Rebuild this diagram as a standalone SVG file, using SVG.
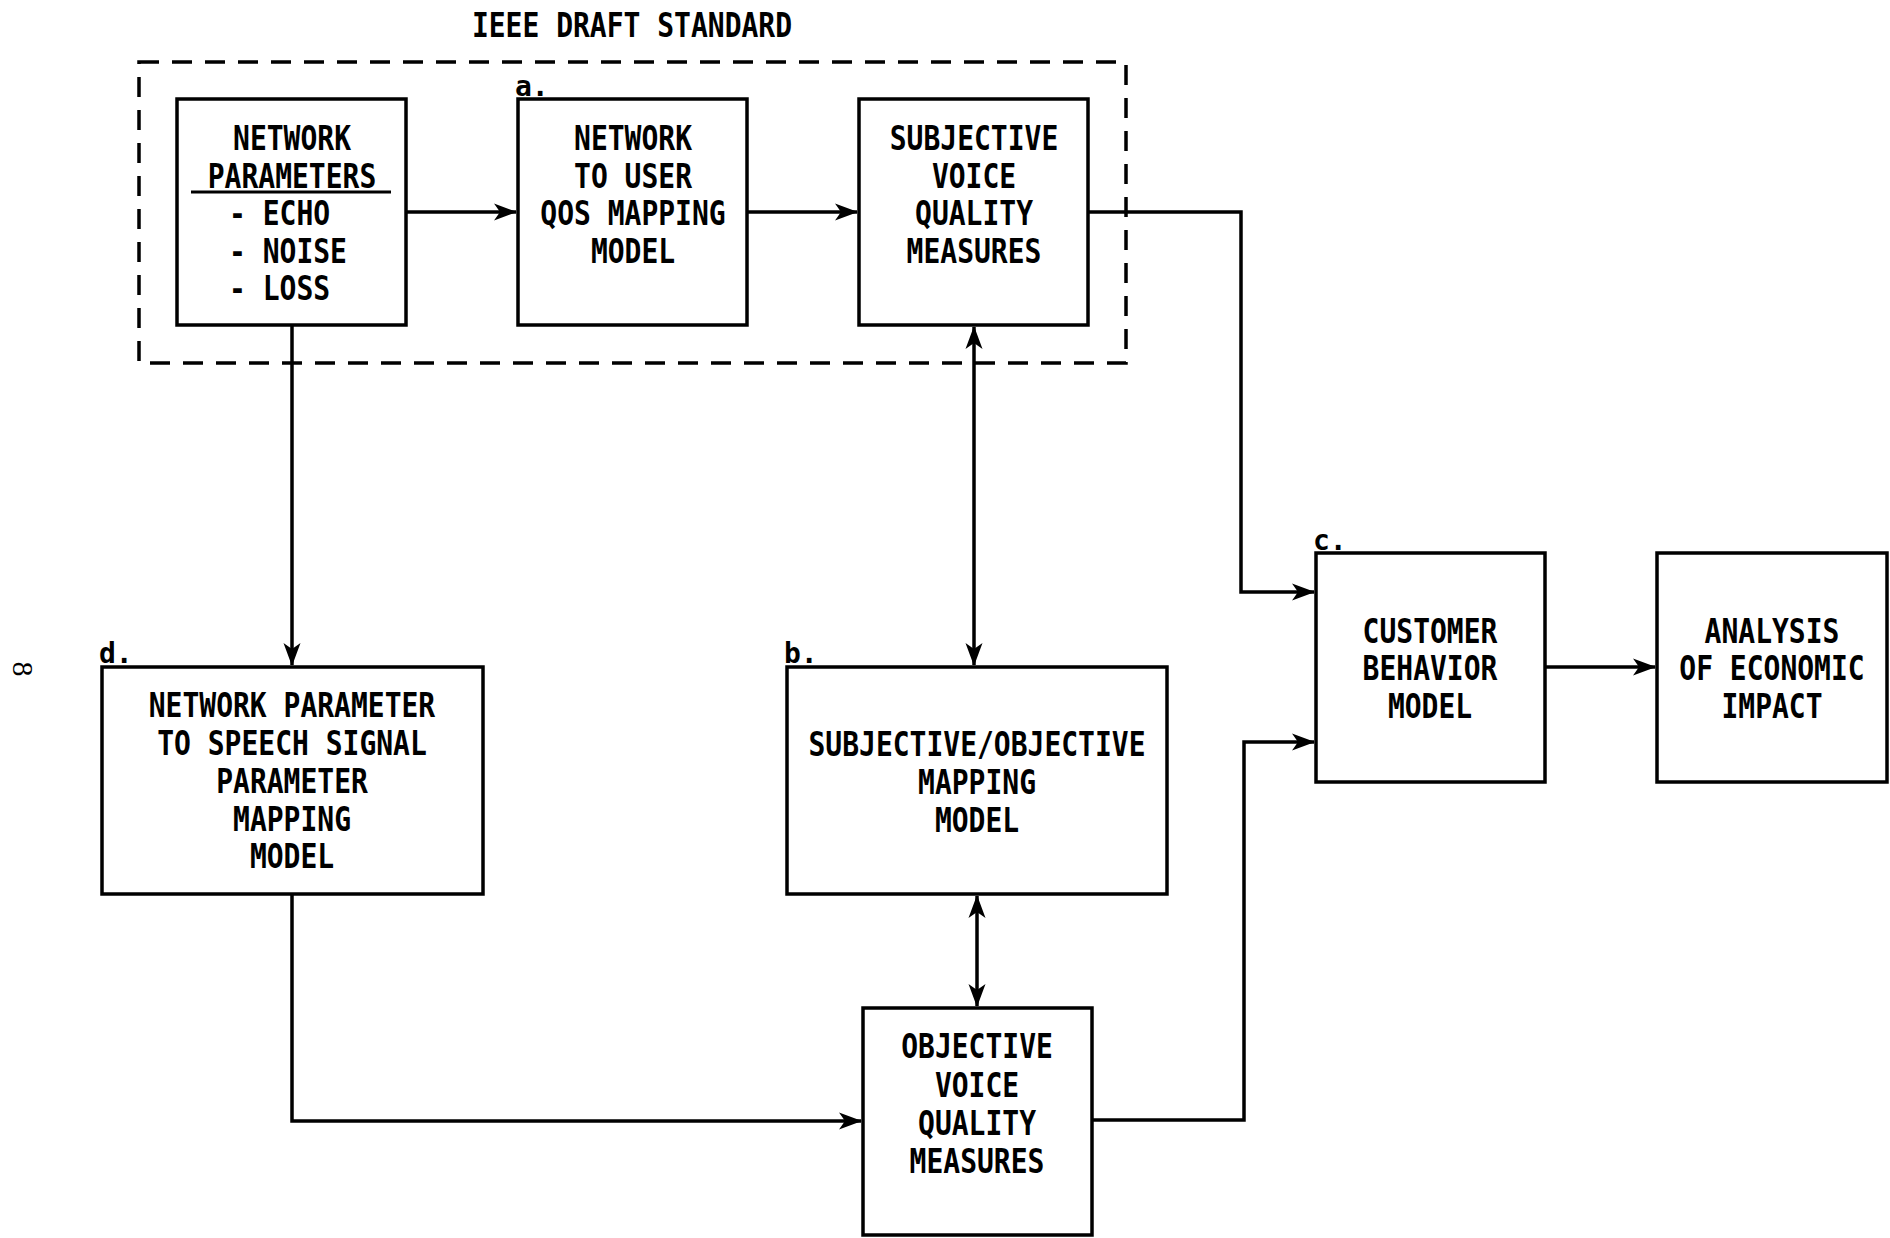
<svg xmlns="http://www.w3.org/2000/svg" width="1890" height="1238" viewBox="0 0 1890 1238">
<style>
.box{fill:none;stroke:#000;stroke-width:3.5}
.t{font-family:"DejaVu Sans Mono","Liberation Mono",monospace;font-size:28px;font-weight:bold;fill:#000;text-anchor:middle}
.tl{text-anchor:start}
.lab{font-family:"DejaVu Sans Mono","Liberation Mono",monospace;font-size:28px;font-weight:bold;fill:#000}
.c{fill:none;stroke:#000;stroke-width:3.5}
.dash{fill:none;stroke:#000;stroke-width:3.5;stroke-dasharray:20 13}
</style>
<defs>
<marker id="ah" viewBox="-24 -10 26 20" refX="0" refY="0" markerWidth="26" markerHeight="20" markerUnits="userSpaceOnUse" orient="auto-start-reverse">
<path d="M1,0 L-22,-8.5 L-16,0 L-22,8.5 Z" fill="#000"/>
</marker>
</defs>
<rect width="1890" height="1238" fill="#fff"/>
<text class="t" transform="translate(632 37) scale(1 1.22)">IEEE DRAFT STANDARD</text>
<text x="23" y="669" font-family="Liberation Serif,serif" font-size="30" text-anchor="middle" dominant-baseline="central" transform="rotate(90 23 669)">8</text>
<rect class="dash" x="139" y="62" width="987" height="301"/>
<g id="connectors">
<line class="c" x1="406" y1="212" x2="516" y2="212" marker-end="url(#ah)"/>
<line class="c" x1="747" y1="212" x2="857" y2="212" marker-end="url(#ah)"/>
<polyline class="c" points="1088,212 1241,212 1241,592 1314,592" marker-end="url(#ah)"/>
<line class="c" x1="292" y1="325" x2="292" y2="665" marker-end="url(#ah)"/>
<polyline class="c" points="292,894 292,1121 861,1121" marker-end="url(#ah)"/>
<line class="c" x1="974" y1="327" x2="974" y2="665" marker-start="url(#ah)" marker-end="url(#ah)"/>
<line class="c" x1="977" y1="896" x2="977" y2="1006" marker-start="url(#ah)" marker-end="url(#ah)"/>
<polyline class="c" points="1092,1120 1244,1120 1244,742 1314,742" marker-end="url(#ah)"/>
<line class="c" x1="1545" y1="667" x2="1655" y2="667" marker-end="url(#ah)"/>
</g>
<g id="network-parameters">
<rect class="box" x="177" y="99" width="229" height="226"/>
<text class="t" transform="translate(292 150) scale(1 1.22)">NETWORK</text>
<text class="t" transform="translate(292 188) scale(1 1.22)">PARAMETERS</text>
<line x1="191" y1="192" x2="391" y2="192" stroke="#000" stroke-width="3"/>
<text class="t tl" transform="translate(229 225) scale(1 1.22)">- ECHO</text>
<text class="t tl" transform="translate(229 263) scale(1 1.22)">- NOISE</text>
<text class="t tl" transform="translate(229 300) scale(1 1.22)">- LOSS</text>
</g>
<g id="network-to-user">
<rect class="box" x="518" y="99" width="229" height="226"/>
<text class="lab" x="515" y="96">a.</text>
<text class="t" transform="translate(633 150) scale(1 1.22)">NETWORK</text>
<text class="t" transform="translate(633 188) scale(1 1.22)">TO USER</text>
<text class="t" transform="translate(633 225) scale(1 1.22)">QOS MAPPING</text>
<text class="t" transform="translate(633 263) scale(1 1.22)">MODEL</text>
</g>
<g id="subjective-voice">
<rect class="box" x="859" y="99" width="229" height="226"/>
<text class="t" transform="translate(974 150) scale(1 1.22)">SUBJECTIVE</text>
<text class="t" transform="translate(974 188) scale(1 1.22)">VOICE</text>
<text class="t" transform="translate(974 225) scale(1 1.22)">QUALITY</text>
<text class="t" transform="translate(974 263) scale(1 1.22)">MEASURES</text>
</g>
<g id="np-speech-mapping">
<rect class="box" x="102" y="667" width="381" height="227"/>
<text class="lab" x="99" y="663">d.</text>
<text class="t" transform="translate(292 717) scale(1 1.22)">NETWORK PARAMETER</text>
<text class="t" transform="translate(292 755) scale(1 1.22)">TO SPEECH SIGNAL</text>
<text class="t" transform="translate(292 793) scale(1 1.22)">PARAMETER</text>
<text class="t" transform="translate(292 831) scale(1 1.22)">MAPPING</text>
<text class="t" transform="translate(292 868) scale(1 1.22)">MODEL</text>
</g>
<g id="subj-obj-mapping">
<rect class="box" x="787" y="667" width="380" height="227"/>
<text class="lab" x="784" y="663">b.</text>
<text class="t" transform="translate(977 756) scale(1 1.22)">SUBJECTIVE/OBJECTIVE</text>
<text class="t" transform="translate(977 794) scale(1 1.22)">MAPPING</text>
<text class="t" transform="translate(977 832) scale(1 1.22)">MODEL</text>
</g>
<g id="objective-voice">
<rect class="box" x="863" y="1008" width="229" height="227"/>
<text class="t" transform="translate(977 1058) scale(1 1.22)">OBJECTIVE</text>
<text class="t" transform="translate(977 1097) scale(1 1.22)">VOICE</text>
<text class="t" transform="translate(977 1135) scale(1 1.22)">QUALITY</text>
<text class="t" transform="translate(977 1173) scale(1 1.22)">MEASURES</text>
</g>
<g id="customer-behavior">
<rect class="box" x="1316" y="553" width="229" height="229"/>
<text class="lab" x="1313" y="550">c.</text>
<text class="t" transform="translate(1430 643) scale(1 1.22)">CUSTOMER</text>
<text class="t" transform="translate(1430 680) scale(1 1.22)">BEHAVIOR</text>
<text class="t" transform="translate(1430 718) scale(1 1.22)">MODEL</text>
</g>
<g id="economic-impact">
<rect class="box" x="1657" y="553" width="230" height="229"/>
<text class="t" transform="translate(1772 643) scale(1 1.22)">ANALYSIS</text>
<text class="t" transform="translate(1772 680) scale(1 1.22)">OF ECONOMIC</text>
<text class="t" transform="translate(1772 718) scale(1 1.22)">IMPACT</text>
</g>
</svg>
